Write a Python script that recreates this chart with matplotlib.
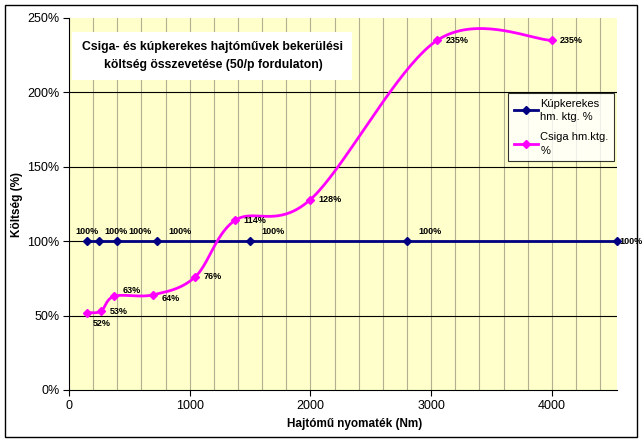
import numpy as np
import matplotlib.pyplot as plt
from matplotlib.ticker import FuncFormatter, MultipleLocator
from matplotlib.patches import Rectangle
from matplotlib.lines import Line2D

plt.rcParams['font.family'] = ['Liberation Sans', 'DejaVu Sans']

# ================================ Data ================================
kup_x = [150, 250, 400, 730, 1500, 2800, 4540]
kup_y = [100, 100, 100, 100, 100, 100, 100]

csiga_x = [150, 265, 375, 700, 1045, 1375, 2000, 3050, 4000]
csiga_y = [52, 53, 63, 64, 76, 114, 128, 235, 235]

kup_name = "Kúpkerekes\nhm. ktg. %"
csiga_name = "Csiga hm.ktg.\n%"
title_text = "Csiga- és kúpkerekes hajtóművek bekerülési\nköltség összevetése (50/p fordulaton)"
x_label = "Hajtómű nyomaték (Nm)"
y_label = "Költség (%)"

navy = "#000080"
magenta = "#FF00FF"


def smooth(xs, ys, n=40):
    # Excel-like smoothed line (Catmull-Rom through the points as cubic Bezier)
    p = np.column_stack([xs, ys]).astype(float)
    p = np.vstack([p[0], p, p[-1]])
    segs = []
    t = np.linspace(0, 1, n)[:, None]
    for i in range(1, len(p) - 2):
        p0, p1, p2, p3 = p[i - 1], p[i], p[i + 1], p[i + 2]
        c1 = p1 + (p2 - p0) / 6
        c2 = p2 - (p3 - p1) / 6
        segs.append((1 - t) ** 3 * p1 + 3 * (1 - t) ** 2 * t * c1
                    + 3 * (1 - t) * t ** 2 * c2 + t ** 3 * p2)
    return np.vstack(segs)


# ================================ Figure ================================
fig = plt.figure(figsize=(6.44, 4.43), dpi=100)
ax = fig.add_axes([69 / 644, 53 / 443, 548 / 644, 372 / 443])
ax.set_facecolor("#FFFFCC")

ax.set_xlim(0, 4540)
ax.set_ylim(0, 250)

# grid: grey verticals every 200, black horizontals every 50
for gx in np.arange(200, 4540, 200):
    ax.axvline(gx, color="#B0B090", lw=0.8, zorder=1)
for gy in np.arange(50, 250, 50):
    ax.axhline(gy, color="black", lw=0.8, zorder=1)

ax.xaxis.set_major_locator(MultipleLocator(1000))
ax.yaxis.set_major_locator(MultipleLocator(50))
ax.yaxis.set_major_formatter(FuncFormatter(lambda v, p: f"{v:.0f}%"))
ax.tick_params(direction="out", length=4, width=0.8, labelsize=9, pad=3)
for side in ["top", "right"]:
    ax.spines[side].set_visible(False)

# series
s = smooth(kup_x, kup_y)
ax.plot(s[:, 0], s[:, 1], color=navy, lw=2, zorder=3, clip_on=False)
ax.plot(kup_x, kup_y, ls="none", marker="D", ms=4.5, color=navy, zorder=4, clip_on=False)
s = smooth(csiga_x, csiga_y)
ax.plot(s[:, 0], s[:, 1], color=magenta, lw=2, zorder=3)
ax.plot(csiga_x, csiga_y, ls="none", marker="D", ms=4.5, color=magenta, zorder=4)

# data labels
lab = dict(fontsize=6.5, fontweight="bold", textcoords="offset points", zorder=5)
for i, (x, y) in enumerate(zip(kup_x, kup_y)):
    if i == 0:
        ax.annotate(f"{y}%", (x, y), xytext=(0, 7), ha="center", va="center", **lab)
    elif i == len(kup_x) - 1:
        ax.annotate(f"{y}%", (x, y), xytext=(2, 0), ha="left", va="center",
                    annotation_clip=False, **lab)
    elif i == 1:
        ax.annotate(f"{y}%", (x, y), xytext=(3.5, 7), ha="left", va="center", **lab)
    else:
        ax.annotate(f"{y}%", (x, y), xytext=(8, 7), ha="left", va="center", **lab)

csiga_dy = {0: -8, 2: 4, 3: -3}
for i, (x, y) in enumerate(zip(csiga_x, csiga_y)):
    dx = 4 if i == 0 else 6
    ax.annotate(f"{y}%", (x, y), xytext=(dx, csiga_dy.get(i, 0)), ha="left", va="center", **lab)

# axis labels
fig.text(355 / 644, 1 - 424 / 443, x_label, ha="center", va="center",
         fontsize=8.5, fontweight="bold")
fig.text(17 / 644, 1 - 204 / 443, y_label, ha="center", va="center",
         rotation=90, fontsize=8.5, fontweight="bold")

# title box
ax.add_patch(Rectangle((72 / 644, 1 - 80 / 443), 280 / 644, 48 / 443,
                       transform=fig.transFigure, facecolor="white",
                       edgecolor="none", zorder=6, clip_on=False))
fig.text(213 / 644, 1 - 56 / 443, title_text, ha="center", va="center",
         fontsize=8.8, fontweight="bold", linespacing=1.75, zorder=7)

# legend
handles = [Line2D([], [], color=navy, lw=2, marker="D", ms=4.5),
           Line2D([], [], color=magenta, lw=2, marker="D", ms=4.5)]
leg = fig.legend(handles, [kup_name, csiga_name], loc="upper left",
                 bbox_to_anchor=(508 / 644, 1 - 93 / 443), fontsize=8,
                 frameon=True, fancybox=False, edgecolor="black",
                 handlelength=2.2, handletextpad=0.2, borderpad=0.5,
                 labelspacing=0.9, borderaxespad=0)
for t in leg.get_texts():
    t.set_linespacing(1.45)
leg.get_frame().set_linewidth(0.8)

# outer chart border
fig.patches.append(Rectangle((5 / 644, 6 / 443), 632 / 644, 432 / 443,
                             transform=fig.transFigure, fill=False,
                             edgecolor="black", lw=1))

fig.savefig("out.png", dpi=100)
